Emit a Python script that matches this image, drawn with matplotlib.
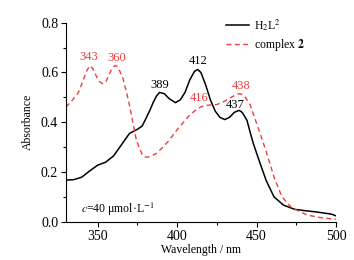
import numpy as np
import matplotlib
matplotlib.use("Agg")
import matplotlib.pyplot as plt
from matplotlib.ticker import MultipleLocator

plt.rcParams['font.family'] = ['Liberation Serif', 'DejaVu Serif']
plt.rcParams['mathtext.fontset'] = 'stix'

# H2L2 spectrum (wavelength / nm, absorbance)
wl_ligand = [330, 335, 340, 345, 350, 355, 360, 365, 370, 375, 378, 380, 383, 385, 387,
             389, 392, 395, 399, 402, 405, 408, 411, 413, 415, 418, 421, 424, 427, 430,
             433, 436, 439, 441, 444, 446, 448, 452, 456, 461, 467, 474, 480, 487, 497, 500]
abs_ligand = [0.168, 0.170, 0.180, 0.205, 0.228, 0.240, 0.265, 0.310, 0.355, 0.372, 0.385,
              0.410, 0.450, 0.480, 0.505, 0.520, 0.515, 0.495, 0.479, 0.490, 0.520, 0.570,
              0.605, 0.612, 0.600, 0.550, 0.490, 0.445, 0.420, 0.411, 0.420, 0.440, 0.448,
              0.440, 0.408, 0.360, 0.315, 0.240, 0.168, 0.101, 0.068, 0.051, 0.046, 0.041,
              0.032, 0.025]

# complex 2 spectrum
wl_complex = [330, 334, 338, 341, 343, 345, 347, 349, 351, 353, 355, 357, 359, 361, 362,
              364, 366, 368, 370, 372, 374, 376, 378, 380, 383, 387, 391, 395, 400, 404,
              408, 412, 415, 418, 422, 425, 430, 434, 437, 439, 441, 443, 446, 449, 452,
              456, 461, 466, 472, 482, 490, 500]
abs_complex = [0.461, 0.488, 0.521, 0.570, 0.605, 0.627, 0.615, 0.588, 0.565, 0.555, 0.560,
               0.588, 0.615, 0.628, 0.626, 0.605, 0.575, 0.525, 0.470, 0.405, 0.340, 0.300,
               0.272, 0.260, 0.262, 0.275, 0.300, 0.328, 0.370, 0.400, 0.430, 0.450, 0.462,
               0.468, 0.470, 0.471, 0.485, 0.500, 0.510, 0.515, 0.512, 0.500, 0.470, 0.415,
               0.360, 0.285, 0.181, 0.101, 0.058, 0.028, 0.018, 0.011]

black_labels = [("389", 389.2, 0.548), ("412", 413.1, 0.647), ("437", 436.4, 0.468)]
red_labels = [("343", 344.7, 0.661), ("360", 362.0, 0.659),
              ("416", 414.1, 0.499), ("438", 440.6, 0.547)]

RED = '#f03c3c'

fig = plt.figure(figsize=(3.54, 2.60), dpi=100)
ax = fig.add_axes([0.186, 0.146, 0.763, 0.767])

ax.plot(wl_ligand, abs_ligand, color='black', linewidth=1.1, label=r'H$_2$L$^2$')
ax.plot(wl_complex, abs_complex, color=RED, linewidth=1.0, linestyle=(0, (3.5, 2.5)),
        label=r'complex $\mathbf{2}$')

for txt, x, y in black_labels:
    ax.text(x, y, txt, color='black', fontsize=9, ha='center', va='center')
for txt, x, y in red_labels:
    ax.text(x, y, txt, color=RED, fontsize=9, ha='center', va='center')

ax.text(339.5, 0.051, r'$c$=40 μmol·L$^{-1}$', fontsize=8.5, ha='left', va='center')

ax.set_xlim(330, 500)
ax.set_ylim(0, 0.8)
ax.xaxis.set_major_locator(MultipleLocator(50))
ax.xaxis.set_minor_locator(MultipleLocator(25))
ax.yaxis.set_major_locator(MultipleLocator(0.2))
ax.yaxis.set_minor_locator(MultipleLocator(0.1))
ax.yaxis.set_major_formatter(plt.FuncFormatter(lambda v, p: f"{v:.1f}"))
ax.tick_params(which='major', direction='out', length=3.5, width=0.8, labelsize=10, pad=2)
ax.tick_params(which='minor', direction='out', length=2, width=0.8)
ax.spines['top'].set_visible(False)
ax.spines['right'].set_visible(False)

ax.set_xlabel('Wavelength / nm', fontsize=8.5, labelpad=1)
ax.set_ylabel('Absorbance', fontsize=8.5, labelpad=5)

ax.legend(loc='upper right', bbox_to_anchor=(0.925, 1.08), frameon=False, fontsize=8.5,
          handlelength=2.0, handletextpad=0.4, labelspacing=0.35)

fig.savefig('out.png', dpi=100)
